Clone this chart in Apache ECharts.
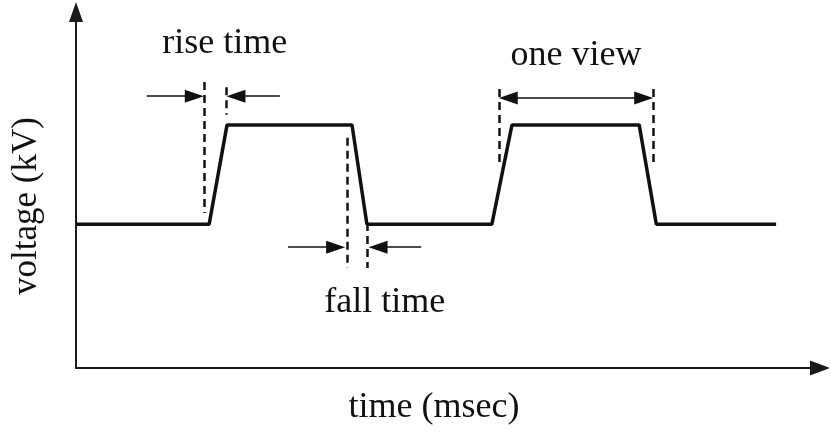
<!DOCTYPE html>
<html>
<head>
<meta charset="utf-8">
<script src="https://cdn.jsdelivr.net/npm/echarts@6/dist/echarts.min.js"></script>
<style>
html,body{margin:0;padding:0;background:#fff;}
#chart{width:831px;height:432px;}
</style>
</head>
<body>
<div id="chart"></div>
<script>
// Waveform (time in arbitrary msec units, voltage in arbitrary kV units)
const timeMs    = [0, 17.9, 20.3, 37.1, 39.1, 55.9, 58.6, 75.7, 78.0, 94.1];
const voltageKV = [4.0, 4.0, 6.76, 6.76, 4.0, 4.0, 6.76, 6.76, 4.0, 4.0];

// Dashed guide lines: time, voltage top, voltage bottom
const guideTime   = [17.2, 20.2, 36.4, 39.2, 56.9, 77.6];
const guideTop    = [7.95, 7.81, 6.40, 4.03, 7.76, 7.76];
const guideBottom = [4.31, 7.04, 2.78, 2.78, 5.59, 5.59];

// Annotation arrows: from time, to time, voltage level, head at start, head at end
const arrowFrom  = [9.5, 27.4, 28.5, 46.4, 58.1];
const arrowTo    = [15.9, 21.5, 34.9, 40.6, 76.3];
const arrowLevel = [7.56, 7.56, 3.36, 3.36, 7.51];
const arrowHeadStart = [false, false, false, false, true];
const arrowHeadEnd   = [true, true, true, true, true];

// Annotation labels
const noteText  = ['rise time', 'fall time', 'one view'];
const noteTime  = [20.0, 41.5, 67.2];
const noteLevel = [9.01, 1.81, 8.70];

const chart = echarts.init(document.getElementById('chart'), null, {renderer: 'canvas'});
const FONT = 'Liberation Serif';
const INK = '#111';

const waveData = timeMs.map((t, i) => [t, voltageKV[i]]);

const guideLines = guideTime.map((t, i) => [
  {coord: [t, guideTop[i]], symbol: 'none'},
  {coord: [t, guideBottom[i]], symbol: 'none'}
]);

const arrowLines = arrowFrom.map((f, i) => [
  {coord: [f, arrowLevel[i]], symbol: arrowHeadStart[i] ? 'triangle' : 'none'},
  {coord: [arrowTo[i], arrowLevel[i]], symbol: arrowHeadEnd[i] ? 'triangle' : 'none'}
]);

const notes = noteText.map((s, i) => ({
  coord: [noteTime[i], noteLevel[i]],
  value: s,
  label: {formatter: s}
}));

chart.setOption({
  animation: false,
  backgroundColor: '#fff',
  grid: {left: 76, right: 11, top: 12, bottom: 64},
  xAxis: {
    type: 'value', min: 0, max: 100,
    name: 'time (msec)', nameLocation: 'middle', nameGap: 22,
    nameTextStyle: {fontFamily: FONT, fontSize: 36, color: INK, padding: [0, 28, 0, 0]},
    axisLine: {show: true, symbol: ['none', 'triangle'], symbolSize: [15, 20],
      lineStyle: {color: '#1a1a1a', width: 2}},
    axisTick: {show: false}, axisLabel: {show: false}, splitLine: {show: false}
  },
  yAxis: {
    type: 'value', min: 0, max: 9.9,
    name: 'voltage (kV)', nameLocation: 'middle', nameGap: 32, nameRotate: 90,
    nameTextStyle: {fontFamily: FONT, fontSize: 35, color: INK, padding: [0, 32, 0, 0]},
    axisLine: {show: true, symbol: ['none', 'triangle'], symbolSize: [14, 20],
      lineStyle: {color: '#1a1a1a', width: 2}},
    axisTick: {show: false}, axisLabel: {show: false}, splitLine: {show: false}
  },
  series: [
    {
      type: 'line', data: waveData, showSymbol: false, symbol: 'none',
      lineStyle: {color: INK, width: 3.5}, silent: true, z: 3
    },
    {
      type: 'line', data: [], silent: true,
      markLine: {
        silent: true, symbol: ['none', 'none'], label: {show: false},
        lineStyle: {type: [8, 5], color: INK, width: 2.5},
        emphasis: {disabled: true},
        data: guideLines
      }
    },
    {
      type: 'line', data: [], silent: true,
      markLine: {
        silent: true, symbolSize: [13, 19], label: {show: false},
        lineStyle: {type: 'solid', color: INK, width: 1.6},
        itemStyle: {color: INK},
        emphasis: {disabled: true},
        data: arrowLines
      }
    },
    {
      type: 'line', data: [], silent: true,
      markPoint: {
        silent: true, symbol: 'circle', symbolSize: 0,
        label: {show: true, position: 'inside', fontFamily: FONT, fontSize: 36, color: INK},
        data: notes
      }
    }
  ]
});
</script>
</body>
</html>
